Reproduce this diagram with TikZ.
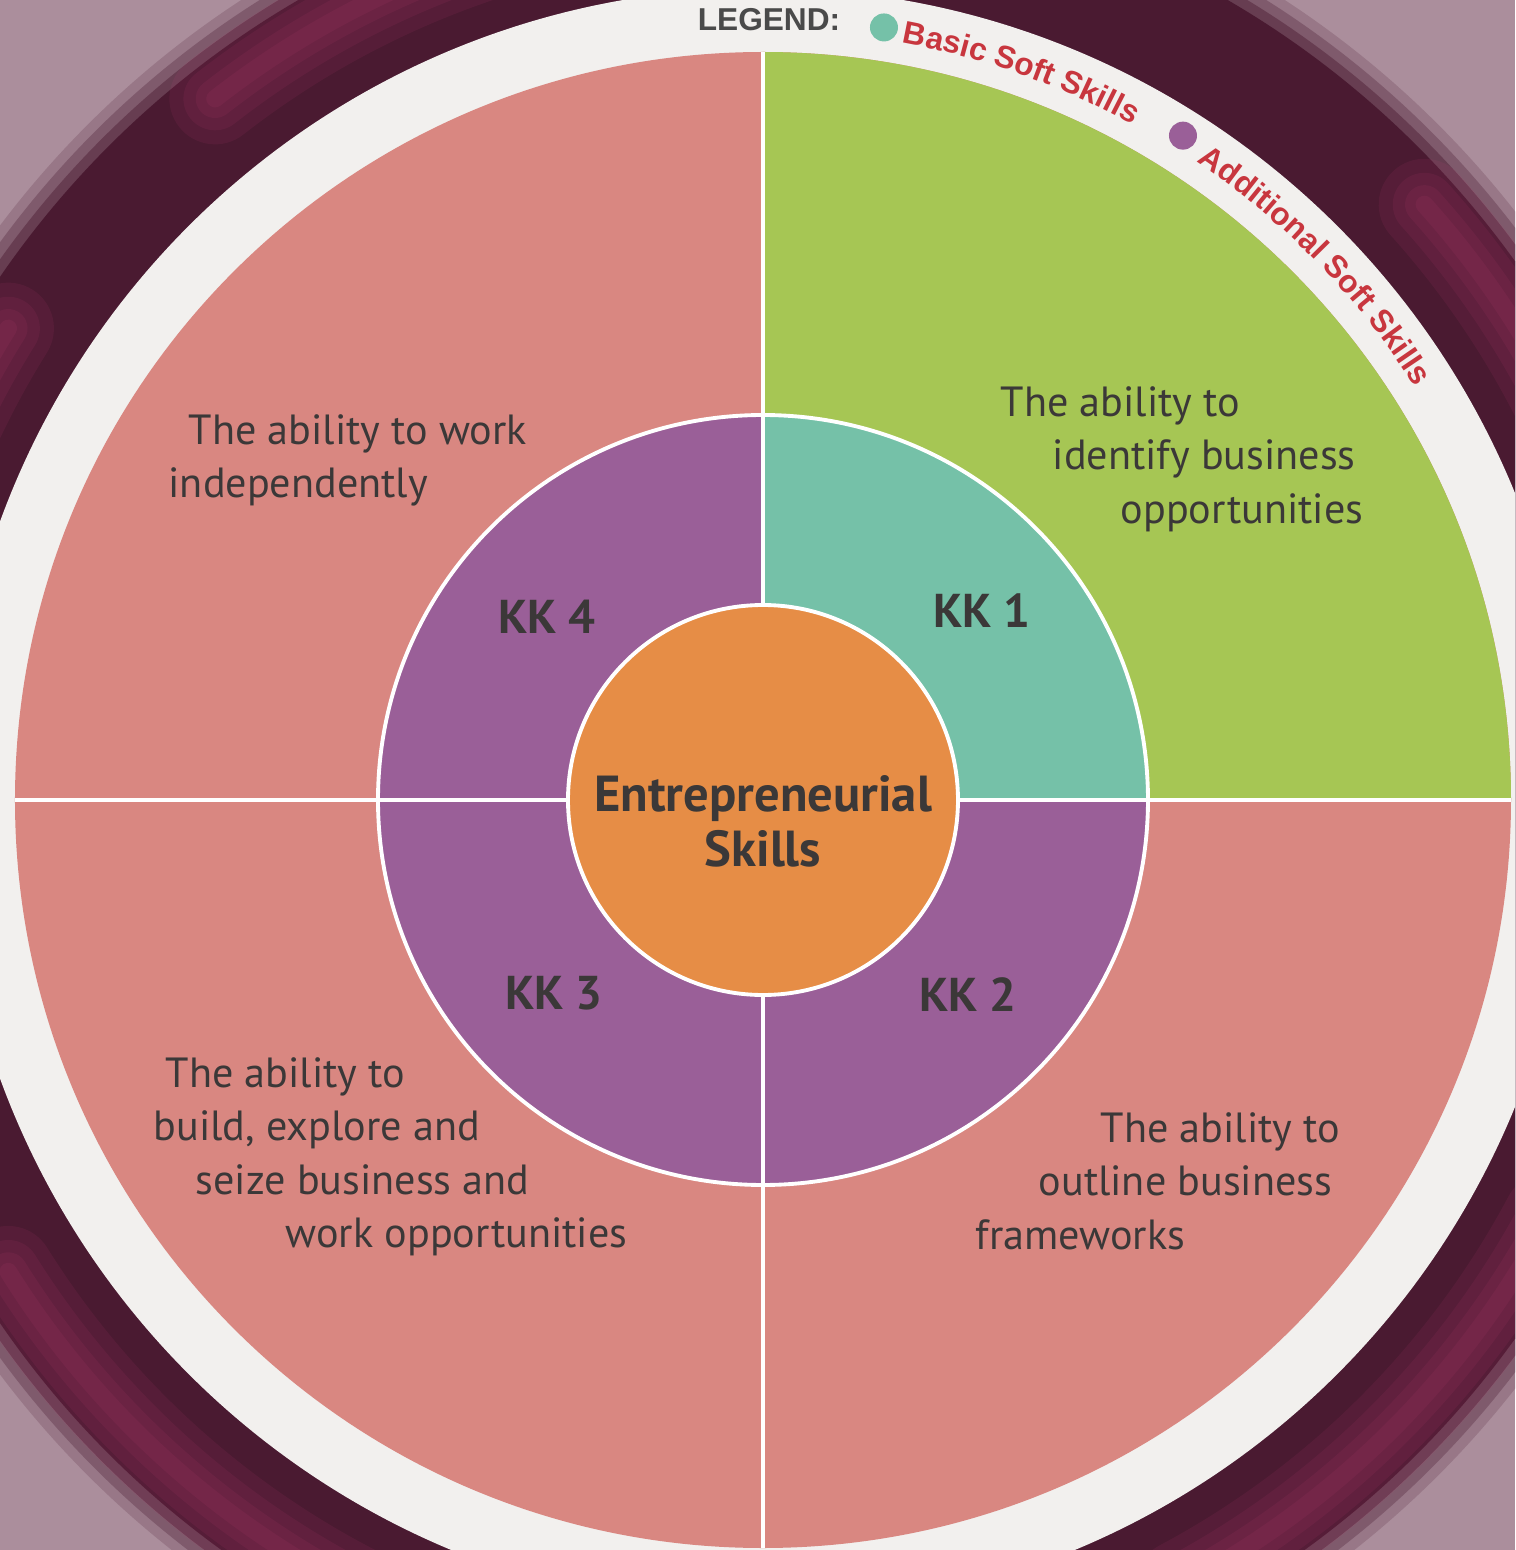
\documentclass[tikz,border=0pt]{standalone}
\usepackage{fontspec}
\setmainfont{PT Sans}
\newfontfamily\legendfont{Liberation Sans}
\usetikzlibrary{decorations.text}

\definecolor{bgmauve}{HTML}{AB8E9C}
\definecolor{plum}{HTML}{4A1A31}
\definecolor{smoke}{HTML}{D2457F}
\definecolor{ringwhite}{HTML}{F2F0EE}
\definecolor{salmon}{HTML}{D98781}
\definecolor{leaf}{HTML}{A6C654}
\definecolor{kkteal}{HTML}{75C1A8}
\definecolor{kkpurple}{HTML}{9A5F98}
\definecolor{core}{HTML}{E68D46}
\definecolor{ink}{HTML}{3B3838}
\definecolor{legendred}{HTML}{C8363E}
\definecolor{legendgray}{HTML}{4A4A4A}

\tikzset{
  sep/.style={draw=white, line width=1.1pt},
  body/.style={text=ink, font=\fontsize{12}{15.2}\selectfont, align=left, inner sep=0pt, anchor=north west},
  kk/.style={text=ink, font=\bfseries\fontsize{13.5}{15.6}\selectfont},
  legend/.style={font=\legendfont\bfseries\fontsize{9}{10}\selectfont},
}

\begin{document}
\begin{tikzpicture}
  \useasboundingbox (-7.63,-7.50) rectangle (7.52,8.00);
  \clip (-7.63,-7.50) rectangle (7.52,8.00);
  % background and dark band
  \fill[bgmauve] (-7.63,-7.50) rectangle (7.52,8.00);
  \foreach \r/\p in {9.55/20, 9.45/45, 9.35/70, 9.25/100}
    \fill[plum!\p!bgmauve] (0,0) circle (\r);
  \foreach \a/\b in {92/128, 148/178, 212/248, 298/332, 18/42}
    \foreach \w in {26,18,11,5}
      \draw[smoke, opacity=0.09, line width=\w pt, line cap=round] (\a:8.9) arc (\a:\b:8.9);
  \fill[ringwhite] (0,0) circle (8.12);

  % outer quadrants
  \fill[salmon] (0,0) circle (7.48);
  \fill[leaf] (0,0) -- (7.48,0) arc (0:90:7.48) -- cycle;
  % key skill ring
  \fill[kkpurple] (0,0) circle (3.85);
  \fill[kkteal] (0,0) -- (3.85,0) arc (0:90:3.85) -- cycle;
  \draw[sep] (-7.48,0) -- (7.48,0);
  \draw[sep] (0,-7.48) -- (0,7.48);
  \draw[sep] (0,0) circle (3.85);
  \filldraw[fill=core, sep] (0,0) circle (1.95);

  % legend
  \node[legend, text=legendgray] (legend) at (0.06,7.80) {LEGEND:};
  \fill[kkteal] (81.1:7.82) circle (0.14);
  \fill[kkpurple] (57.7:7.86) circle (0.14);
  \path[decorate, decoration={text along path, text color=legendred,
      text={|\legendfont\bfseries\fontsize{9}{10}\selectfont|Basic Soft Skills}}]
    (79.6:7.70) arc[start angle=79.6, end angle=50, radius=7.70];
  \path[decorate, decoration={text along path, text color=legendred,
      text={|\legendfont\bfseries\fontsize{9}{10}\selectfont|Additional Soft Skills}}]
    (55.8:7.72) arc[start angle=55.8, end angle=20, radius=7.72];

  % quadrant texts
  \node[body] (tl) at (-5.95,3.86) {\hspace*{2mm}The ability to work\\independently};
  \node[body] (tr) at (2.37,4.14) {The ability to\\\hspace*{5.2mm}identify business\\\hspace*{12mm}opportunities};
  \node[body] (bl) at (-6.10,-2.57) {\hspace*{1.2mm}The ability to\\build, explore and\\\hspace*{4.2mm}seize business and\\\hspace*{13.2mm}work opportunities};
  \node[body] (br) at (2.12,-3.12) {\hspace*{12.5mm}The ability to\\\hspace*{6.3mm}outline business\\frameworks};

  % key skills
  \node[kk] (kk4) at (-2.16,1.83) {KK 4};
  \node[kk] (kk1) at (2.19,1.89) {KK 1};
  \node[kk] (kk3) at (-2.09,-1.93) {KK 3};
  \node[kk] (kk2) at (2.05,-1.95) {KK 2};
  \node[kk, font=\bfseries\fontsize{14.4}{15.6}\selectfont, align=center] (ent) at (0,-0.21) {Entrepreneurial\\Skills};
\end{tikzpicture}
\end{document}
